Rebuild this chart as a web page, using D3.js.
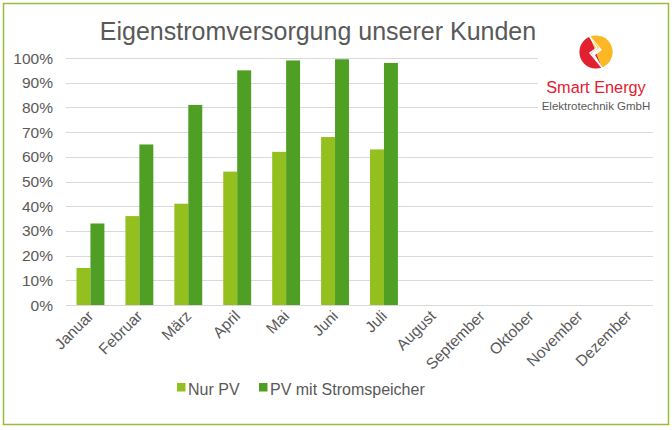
<!DOCTYPE html>
<html><head><meta charset="utf-8">
<script src="https://cdn.jsdelivr.net/npm/d3@7/dist/d3.min.js"></script>
<style>body{margin:0;background:#fff;}svg{display:block;font-family:"Liberation Sans",Arial,sans-serif;}</style>
</head><body>
<svg id="c" width="672" height="430"></svg>
<script>
const categories = ["Januar","Februar","März","April","Mai","Juni","Juli","August","September","Oktober","November","Dezember"];
const nurPV = [15,36,41,54,62,68,63,null,null,null,null,null];
const pvSpeicher = [33,65,81,95,99,99.5,98,null,null,null,null,null];
const yTicks = [0,10,20,30,40,50,60,70,80,90,100];
const seriesNames = ["Nur PV","PV mit Stromspeicher"];
const colors = ["#93c01f","#4e9f24"];

const svg = d3.select("#c");
svg.append("rect").attr("x",3.5).attr("y",3.5).attr("width",665).attr("height",421)
  .attr("fill","#fff").attr("stroke","#9bbb3b").attr("stroke-width",1.5);

const x = d3.scaleBand().domain(categories).range([66,653]).paddingInner(0.43).paddingOuter(0.215);
const y = d3.scaleLinear().domain([0,100]).range([305,58]);
const x1 = d3.scaleBand().domain([0,1]).range([0,x.bandwidth()]);

// grid
svg.append("g").selectAll("line").data(yTicks).join("line")
  .attr("x1",66).attr("x2",653).attr("y1",d=>Math.round(y(d))+0.5).attr("y2",d=>Math.round(y(d))+0.5)
  .attr("stroke","#d9d9d9").attr("stroke-width",1);

// y labels
svg.append("g").selectAll("text").data(yTicks).join("text")
  .attr("x",53).attr("y",d=>y(d)+5.5).attr("text-anchor","end")
  .attr("font-size",15.5).attr("fill","#595959").text(d=>d+"%");

// bars
const series = [nurPV,pvSpeicher];
series.forEach((s,i)=>{
  svg.append("g").selectAll("rect").data(categories.map((c,j)=>({c,v:s[j]})).filter(d=>d.v!=null)).join("rect")
    .attr("x",d=>x(d.c)+x1(i)).attr("width",x1.bandwidth())
    .attr("y",d=>y(d.v)).attr("height",d=>y(0)-y(d.v)).attr("fill",colors[i]);
});

// x labels
svg.append("g").selectAll("text").data(categories).join("text")
  .attr("transform",d=>`translate(${x(d)+x.bandwidth()/2+4},${317}) rotate(-45)`)
  .attr("text-anchor","end").attr("font-size",15.5).attr("fill","#595959").text(d=>d);

// title
svg.append("text").attr("x",318).attr("y",40).attr("text-anchor","middle")
  .attr("font-size",25).attr("fill","#595959").text("Eigenstromversorgung unserer Kunden");

// logo
const lg = svg.append("g");
lg.append("rect").attr("x",538).attr("y",30).attr("width",126).attr("height",86).attr("fill","#fff");
const cx=596, cy=52, r=16;
lg.append("path").attr("d",`M${cx-6},${cy-r+0.5} A${r},${r} 0 1 0 ${cx+6},${cy+r-0.5} Z`).attr("fill","#e3202f");
lg.append("path").attr("d",`M${cx-6},${cy-r+0.5} A${r},${r} 0 0 1 ${cx+6},${cy+r-0.5} Z`).attr("fill","#fbb824");
lg.append("path").attr("d",`M${cx-9},${cy-20} L${cx+3},${cy-4} L${cx-5},${cy+1} L${cx+9},${cy+20} L${cx-1},${cy+3} L${cx+6},${cy-2} Z`)
  .attr("fill","#fff");
lg.append("path").attr("d",`M${cx-8},${cy-18} L${cx+1},${cy-4} L${cx-6},${cy+1} L${cx+8},${cy+18}`)
  .attr("fill","none").attr("stroke","#fff").attr("stroke-width",1.5);
lg.append("text").attr("x",596).attr("y",93).attr("text-anchor","middle").attr("font-size",16.3)
  .attr("fill","#e3202f").text("Smart Energy");
lg.append("text").attr("x",596).attr("y",110).attr("text-anchor","middle").attr("font-size",11.5)
  .attr("fill","#595959").text("Elektrotechnik GmbH");

// legend
const leg = svg.append("g");
const lx=[177,259];
seriesNames.forEach((n,i)=>{
  leg.append("rect").attr("x",lx[i]).attr("y",383).attr("width",8.5).attr("height",8.5).attr("fill",colors[i]);
  leg.append("text").attr("x",lx[i]+11).attr("y",394.5).attr("font-size",16).attr("fill","#595959").text(n);
});
</script>
</body></html>
